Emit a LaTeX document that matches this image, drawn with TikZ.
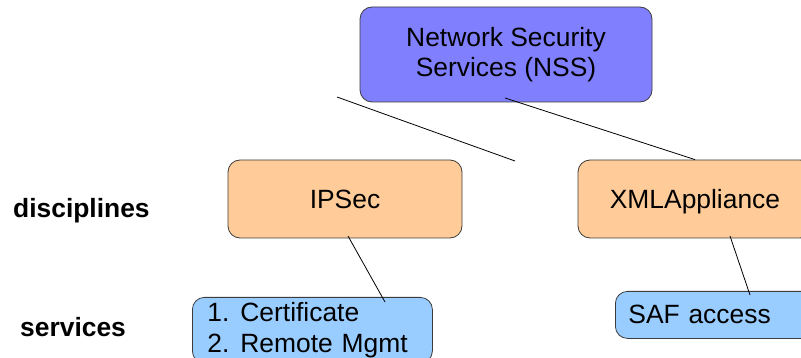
\documentclass[tikz,border=0pt]{standalone}
\usepackage{fontspec}
\setmainfont{Liberation Sans}
\definecolor{nssblue}{RGB}{128,128,255}
\definecolor{discorange}{RGB}{255,204,153}
\definecolor{servblue}{RGB}{153,204,255}
\definecolor{edgegray}{RGB}{60,60,60}
\tikzset{
  box/.style={draw=edgegray, line width=0.8pt, rounded corners=12pt, inner sep=0pt,
    font=\fontsize{26.4}{30}\selectfont},
  rowlabel/.style={anchor=base west, inner sep=0pt, font=\fontsize{26.4}{30}\selectfont\bfseries},
  link/.style={draw=black, line width=0.8pt}
}
\newcommand{\itemgap}{\hspace{11pt}}
\begin{document}
\begin{tikzpicture}[x=1pt,y=-1pt]
  \useasboundingbox (0,0) rectangle (801,358);

  % top level
  \node[box, fill=nssblue, minimum width=292pt, minimum height=95pt, align=center]
    (nss) at (506,54.5) {Network Security\\Services (NSS)};

  % disciplines
  \node[box, fill=discorange, minimum width=234pt, minimum height=78pt]
    (ipsec) at (345,199) {IPSec};
  \node[box, fill=discorange, minimum width=234pt, minimum height=78pt, text depth=0pt]
    (xml) at (695,199) {XMLAppliance};

  % services
  \node[box, fill=servblue, anchor=north west, align=left, text width=210pt,
    inner xsep=15pt, inner ysep=5pt]
    (cert) at (192,297) {1.\itemgap Certificate\\[1pt]2.\itemgap Remote Mgmt};
  \node[box, fill=servblue, anchor=north west, text width=230pt,
    inner xsep=13pt, minimum height=47pt]
    (saf) at (615,291) {SAF access};

  % row labels
  \node[rowlabel] (ldisc) at (13,218) {disciplines};
  \node[rowlabel] (lserv) at (20,337) {services};

  % connector end points
  \coordinate (s1) at (337,97);
  \coordinate (s2) at (515,161);
  \coordinate (nssout) at (505,98);
  \coordinate (ipsecout) at (348,236);
  \coordinate (certin) at (385,302);
  \coordinate (xmlout) at (730,236);
  \coordinate (safin) at (750,295);

  % connectors
  \draw[link] (s1) -- (s2);
  \draw[link] (nssout) -- (xml.north);
  \draw[link] (ipsecout) -- (certin);
  \draw[link] (xmlout) -- (safin);
\end{tikzpicture}
\end{document}
